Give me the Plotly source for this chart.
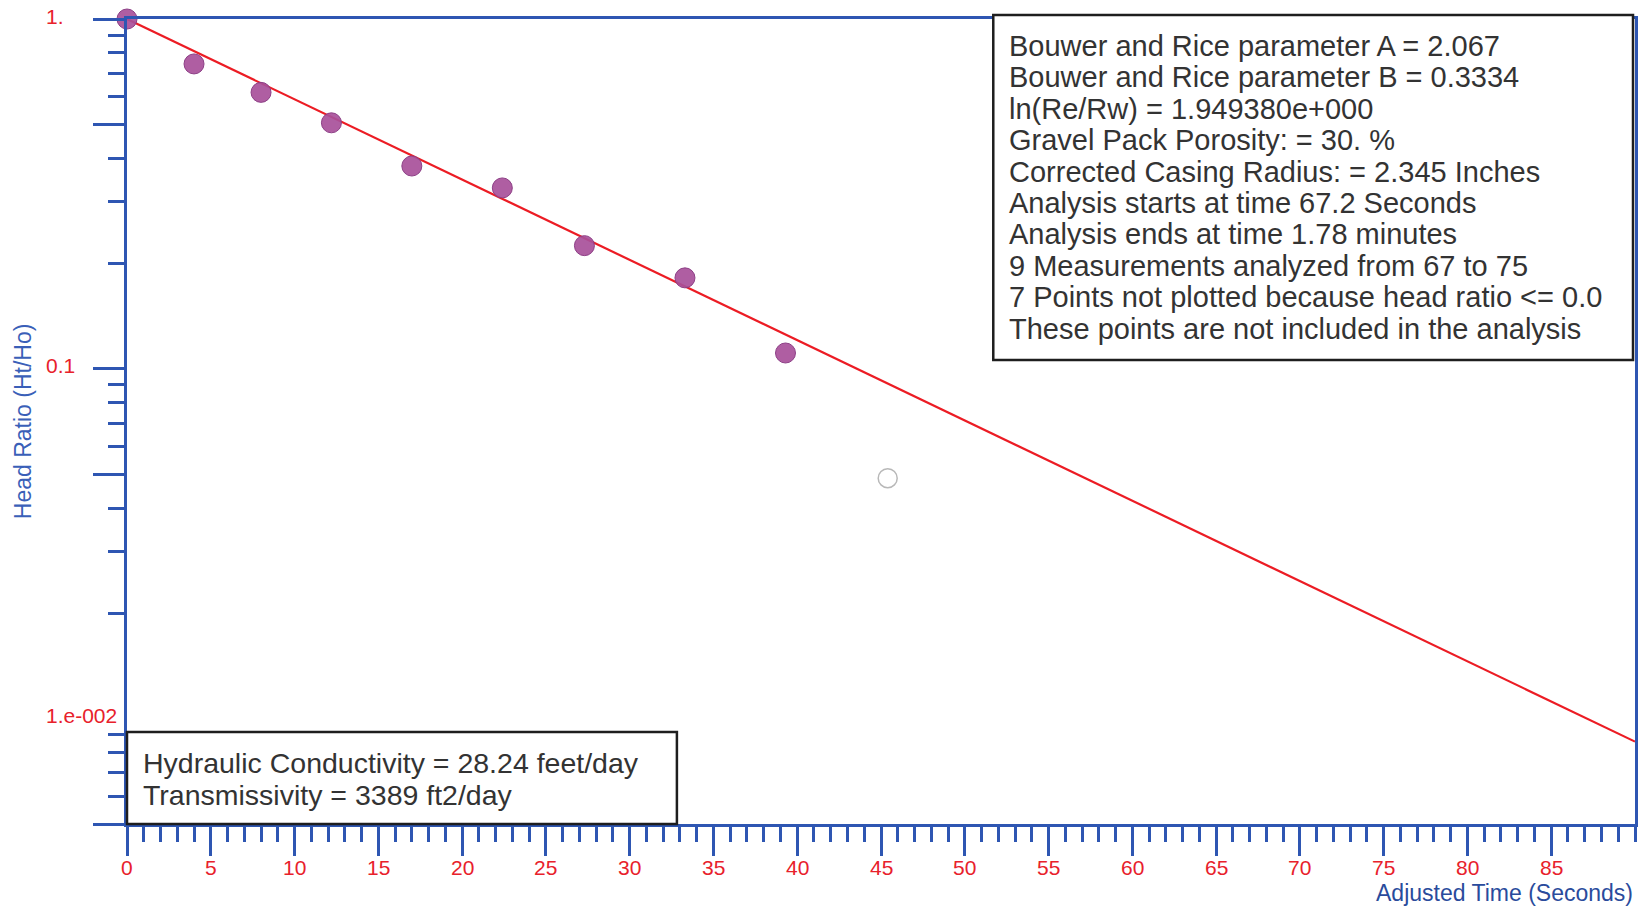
import math
import plotly.graph_objects as go

# Slug-test recovery data (adjusted time in seconds, head ratio Ht/Ho)
time_s = [0.0, 4.0, 8.0, 12.2, 17.0, 22.4, 27.3, 33.3, 39.3]
head_ratio = [1.0, 0.744, 0.617, 0.505, 0.380, 0.329, 0.225, 0.182, 0.111]

# Point shown hollow (not part of the fit)
extra_time = [45.4]
extra_ratio = [0.0487]

# Bouwer and Rice straight-line fit
fit_time = [0.0, 90.0]
fit_ratio = [1.0, 0.0086]

# Axis ticks
x_major = list(range(0, 90, 5))
x_labels = [str(v) for v in x_major]
y_major = [1.0, 0.5, 0.1, 0.05, 0.005]
y_minor = [0.9, 0.8, 0.7, 0.6, 0.4, 0.3, 0.2,
           0.09, 0.08, 0.07, 0.06, 0.04, 0.03, 0.02,
           0.009, 0.008, 0.007, 0.006]
y_label_vals = [1.0, 0.1, 0.01]
y_label_text = ["1.", "0.1", "1.e-002"]

results_lines = [
    "Bouwer and Rice parameter A = 2.067",
    "Bouwer and Rice parameter B = 0.3334",
    "ln(Re/Rw) = 1.949380e+000",
    "Gravel Pack Porosity: = 30. %",
    "Corrected Casing Radius: = 2.345 Inches",
    "Analysis starts at time 67.2 Seconds",
    "Analysis ends at time 1.78 minutes",
    "9 Measurements analyzed from 67 to 75",
    "7 Points not plotted because head ratio <= 0.0",
    "These points are not included in the analysis",
]
summary_lines = [
    "Hydraulic Conductivity = 28.24 feet/day",
    "Transmissivity = 3389 ft2/day",
]

W, H = 1646, 907
ML, MR, MT, MB = 127, 8, 19, 83
PW, PH = W - ML - MR, H - MT - MB

AXIS_BLUE = "#2e56b2"
LABEL_RED = "#e8212b"
TEXT_GREY = "#333333"
FONT = "Liberation Sans, Arial, sans-serif"


def px_x(px):
    return (px - ML) / PW


def px_y(py):
    return (H - MB - py) / PH


fig = go.Figure()

fig.add_trace(go.Scatter(
    x=fit_time, y=fit_ratio, mode="lines",
    line=dict(color="#ec1c24", width=2.2),
    hoverinfo="skip", showlegend=False, cliponaxis=False,
))
fig.add_trace(go.Scatter(
    x=time_s, y=head_ratio, mode="markers",
    marker=dict(size=20, color="rgba(168,80,154,0.92)",
                line=dict(color="#8d3f86", width=1)),
    showlegend=False, cliponaxis=False,
))
fig.add_trace(go.Scatter(
    x=extra_time, y=extra_ratio, mode="markers",
    marker=dict(size=19, symbol="circle-open", color="#b8b8b8",
                line=dict(width=1.5)),
    showlegend=False, cliponaxis=False,
))

fig.update_xaxes(
    range=[0, 90],
    showline=True, linecolor=AXIS_BLUE, linewidth=3, mirror=True,
    showgrid=False, zeroline=False,
    tickmode="array", tickvals=x_major, showticklabels=False,
    ticks="outside", ticklen=29, tickwidth=3, tickcolor=AXIS_BLUE,
    minor=dict(dtick=1, ticks="outside", ticklen=15, tickwidth=3,
               tickcolor=AXIS_BLUE, showgrid=False),
)
fig.update_yaxes(
    type="log", range=[-2.30103, 0],
    showline=True, linecolor=AXIS_BLUE, linewidth=3, mirror=True,
    showgrid=False, zeroline=False,
    tickmode="array", tickvals=y_major, showticklabels=False,
    ticks="outside", ticklen=31, tickwidth=3, tickcolor=AXIS_BLUE,
    minor=dict(tickmode="array", tickvals=y_minor, ticks="outside",
               ticklen=16, tickwidth=3, tickcolor=AXIS_BLUE, showgrid=False),
)

# Boxes for the analysis results and the summary
fig.add_shape(type="rect", xref="paper", yref="paper",
              x0=px_x(995), x1=px_x(1636), y0=px_y(360), y1=px_y(15),
              line=dict(color="#1e1e1e", width=2.5), fillcolor="white",
              layer="above")
fig.add_shape(type="rect", xref="paper", yref="paper",
              x0=px_x(127), x1=px_x(678), y0=px_y(824), y1=px_y(732),
              line=dict(color="#1e1e1e", width=2.5), fillcolor="white",
              layer="above")

annotations = []
line_gap = 31.4
for i, txt in enumerate(results_lines):
    annotations.append(dict(
        text=txt, xref="paper", yref="paper",
        x=px_x(1009), y=px_y(46 + i * line_gap),
        xanchor="left", yanchor="middle", showarrow=False,
        font=dict(family=FONT, size=29, color=TEXT_GREY),
    ))
for i, txt in enumerate(summary_lines):
    annotations.append(dict(
        text=txt, xref="paper", yref="paper",
        x=px_x(141), y=px_y(763 + i * 32),
        xanchor="left", yanchor="middle", showarrow=False,
        font=dict(family=FONT, size=28.5, color=TEXT_GREY),
    ))

# Left-aligned y tick labels
for v, t in zip(y_label_vals, y_label_text):
    annotations.append(dict(
        text=t, xref="paper", yref="y", x=px_x(44), y=math.log10(v),
        xanchor="left", yanchor="middle", yshift=3, showarrow=False,
        font=dict(family=FONT, size=21, color=LABEL_RED),
    ))

# X tick labels under the long ticks
for v, t in zip(x_major, x_labels):
    annotations.append(dict(
        text=t, xref="x", yref="paper", x=v, y=px_y(867),
        xanchor="center", yanchor="middle", showarrow=False,
        font=dict(family=FONT, size=21, color=LABEL_RED),
    ))

# Axis titles
annotations.append(dict(
    text="Adjusted Time (Seconds)", xref="paper", yref="paper",
    x=px_x(1638), y=px_y(893), xanchor="right", yanchor="middle",
    showarrow=False, font=dict(family=FONT, size=23, color="#2a4b9c"),
))
annotations.append(dict(
    text="Head Ratio (Ht/Ho)", xref="paper", yref="paper",
    x=px_x(23), y=px_y(421), xanchor="center", yanchor="middle",
    textangle=-90, showarrow=False,
    font=dict(family=FONT, size=23, color="#3a5fb8"),
))

fig.update_layout(
    width=W, height=H,
    margin=dict(l=ML, r=MR, t=MT, b=MB, pad=0),
    paper_bgcolor="white", plot_bgcolor="white",
    showlegend=False,
    annotations=annotations,
)

fig.write_html("out.html")
